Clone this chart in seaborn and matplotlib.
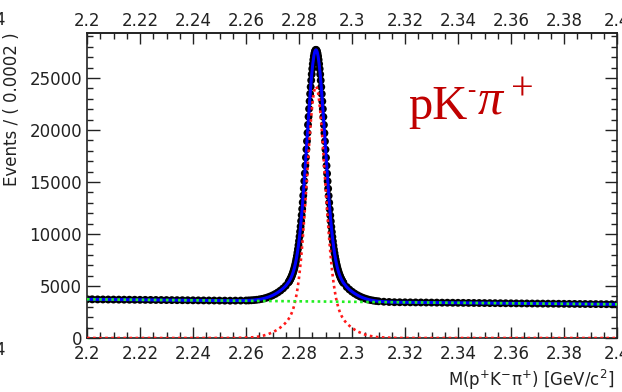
import numpy as np
import pandas as pd
import matplotlib
matplotlib.use("Agg")
import matplotlib.pyplot as plt
import seaborn as sns
from matplotlib.ticker import MultipleLocator, FuncFormatter

# ---------------- data (events per 0.0002 GeV/c^2 bin) ----------------
# segments: (first bin centre, spacing between listed bins)
far_left_start, far_left_step = 2.200, 0.002
far_left_counts = [3720, 3715, 3710, 3706, 3701, 3696, 3691, 3686, 3682, 3677,
                   3672, 3667, 3662, 3658, 3653, 3648, 3643, 3638, 3634, 3629,
                   3624, 3619, 3614, 3610, 3605, 3600, 3595, 3590, 3596, 3601, 3604]

near_left_start, near_left_step = 2.261, 0.001
near_left_counts = [3614, 3628, 3648, 3675, 3711, 3758, 3818, 3893, 3985, 4096,
                    4228, 4382, 4560, 4768, 5017]

peak_start, peak_step = 2.2760, 0.0002
peak_counts = [5339, 5415, 5500, 5595, 5692, 5798, 5914, 6041, 6179, 6332,
               6497, 6681, 6882, 7101, 7343, 7607, 7895, 8210, 8551, 8922,
               9324, 9756, 10221, 10720, 11250, 11814, 12410, 13037, 13697, 14383,
               15096, 15830, 16587, 17357, 18140, 18928, 19718, 20503, 21278, 22036,
               22772, 23479, 24149, 24778, 25361, 25888, 26357, 26762, 27101, 27366,
               27558, 27674, 27713, 27674, 27556, 27364, 27097, 26758, 26351, 25882,
               25353, 24770, 24139, 23469, 22760, 22024, 21264, 20489, 19702, 18912,
               18122, 17339, 16567, 15810, 15074, 14361, 13673, 13013, 12385, 11788,
               11224, 10692, 10193, 9726, 9294, 8890, 8519, 8176, 7861, 7571,
               7307, 7063, 6844, 6641, 6457, 6290, 6137, 5997, 5870, 5752,
               5646, 5547, 5452, 5367, 5289]

near_right_start, near_right_step = 2.298, 0.001
near_right_counts = [4908, 4663, 4457, 4279, 4125, 3993, 3880, 3788, 3711, 3649,
                     3600, 3560, 3530]

far_right_start, far_right_step = 2.312, 0.002
far_right_counts = [3489, 3464, 3442, 3437, 3432, 3427, 3422, 3418, 3413, 3408,
                    3403, 3398, 3394, 3389, 3384, 3379, 3374, 3370, 3365, 3360,
                    3355, 3350, 3346, 3341, 3336, 3331, 3326, 3322, 3317, 3312,
                    3307, 3302, 3298, 3293, 3288, 3283, 3278, 3274, 3269, 3264,
                    3259, 3254, 3250, 3245, 3240]

# signal component (red dotted)
sig_tail_left_mass = [2.2000, 2.2400, 2.2560, 2.2624, 2.2644, 2.2664, 2.2684]
sig_tail_left_counts = [0, 0, 6, 65, 123, 220, 372]
sig_core_start, sig_core_step = 2.2704, 0.0004
sig_core_counts = [595, 650, 708, 769, 835, 903, 977, 1055, 1138, 1226,
                   1321, 1423, 1535, 1660, 1801, 1963, 2156, 2379, 2645, 2964,
                   3350, 3812, 4365, 5022, 5796, 6694, 7724, 8885, 10172, 11572,
                   13064, 14618, 16197, 17758, 19253, 20631, 21844, 22841, 23586, 24044,
                   24200,
                   24044, 23586, 22841, 21844, 20631, 19253, 17758, 16197, 14618, 13064,
                   11572, 10172, 8885, 7724, 6694, 5796, 5022, 4365, 3812, 3350,
                   2964, 2645, 2379, 2156, 1963, 1801, 1660, 1535, 1423, 1321,
                   1226, 1138, 1055, 977, 903, 835, 769, 708, 650, 595]
sig_tail_right_mass = [2.3044, 2.3064, 2.3084, 2.3104, 2.3168, 2.3300, 2.4000]
sig_tail_right_counts = [372, 220, 123, 65, 6, 0, 0]

# background component (green dotted)
bkg_mass = [2.200, 2.400]
bkg_counts = [3720, 3240]

x_ticks_labels_step = 0.02

# ---------------- assemble ----------------
def seg(start, step, vals):
    return start + step * np.arange(len(vals))

mass = np.concatenate([seg(far_left_start, far_left_step, far_left_counts),
                       seg(near_left_start, near_left_step, near_left_counts),
                       seg(peak_start, peak_step, peak_counts),
                       seg(near_right_start, near_right_step, near_right_counts),
                       seg(far_right_start, far_right_step, far_right_counts)])
counts = np.concatenate([far_left_counts, near_left_counts, peak_counts,
                         near_right_counts, far_right_counts]).astype(float)
data = pd.DataFrame({"mass": mass, "events": counts})

sig_mass = np.concatenate([sig_tail_left_mass,
                           seg(sig_core_start, sig_core_step, sig_core_counts),
                           sig_tail_right_mass])
sig_counts = np.concatenate([sig_tail_left_counts, sig_core_counts, sig_tail_right_counts])
sig = pd.DataFrame({"mass": sig_mass, "events": sig_counts})
bkg = pd.DataFrame({"mass": bkg_mass, "events": bkg_counts})

# ---------------- plot ----------------
sns.set_style("ticks")
plt.rcParams["font.family"] = ["DejaVu Sans"]
plt.rcParams["mathtext.fontset"] = "dejavusans"

W, H = 622, 392
fig = plt.figure(figsize=(W / 100, H / 100), dpi=100)
ax = fig.add_axes([87 / W, 1 - 338 / H, 530 / W, 305 / H])

ax.errorbar(data["mass"], data["events"], yerr=np.sqrt(data["events"]),
            fmt="none", ecolor="black", elinewidth=1.4, zorder=2)
sns.scatterplot(data=data, x="mass", y="events", ax=ax, color="black",
                s=32, edgecolor="none", linewidth=0, zorder=2, legend=False)
sns.lineplot(data=data, x="mass", y="events", ax=ax, color="#0000ff",
             linewidth=2.2, zorder=3, estimator=None)
sns.lineplot(data=sig, x="mass", y="events", ax=ax, color="#ff1a1a",
             linewidth=1.9, linestyle=(0, (1, 1.3)), zorder=4, estimator=None)
sns.lineplot(data=bkg, x="mass", y="events", ax=ax, color="#22ee22",
             linewidth=1.9, linestyle=(0, (1, 1.3)), zorder=5, estimator=None)

ax.set_xlim(2.2, 2.4)
ax.set_ylim(0, 29330)
ax.set_xlabel("")
ax.set_ylabel("")

fmt_x = FuncFormatter(lambda v, p: f"{v:g}")
ax.xaxis.set_major_locator(MultipleLocator(x_ticks_labels_step))
ax.xaxis.set_minor_locator(MultipleLocator(0.005))
ax.xaxis.set_major_formatter(fmt_x)
ax.yaxis.set_major_locator(MultipleLocator(5000))
ax.yaxis.set_minor_locator(MultipleLocator(1000))
ax.yaxis.set_major_formatter(FuncFormatter(lambda v, p: f"{v:.0f}"))

ax.tick_params(axis="both", which="both", direction="in", top=True, right=True,
               colors="#222222", labelcolor="#222222", width=1.0)
ax.tick_params(axis="x", which="major", length=8, pad=5, labelsize=12)
ax.tick_params(axis="x", which="minor", length=4)
ax.tick_params(axis="y", which="major", length=9, pad=3.6, labelsize=12)
ax.tick_params(axis="y", which="minor", length=4.5)
for s in ax.spines.values():
    s.set_linewidth(1.2)
    s.set_color("#222222")

secax = ax.secondary_xaxis("top")
secax.xaxis.set_major_locator(MultipleLocator(x_ticks_labels_step))
secax.xaxis.set_major_formatter(fmt_x)
secax.tick_params(axis="x", which="both", length=0, pad=2.2, labelsize=12,
                  labelcolor="#222222")
secax.xaxis.set_minor_locator(MultipleLocator(0.005))
secax.spines["top"].set_linewidth(1.2)
secax.spines["top"].set_color("#222222")

# axis titles
fig.text(12.5 / W, 1 - 32 / H, "Events / ( 0.0002 )", rotation=90,
         ha="center", va="top", fontsize=12, color="#222222")
fig.text(614 / W, 1 - 380 / H, "M(p$^{+}$K$^{-}$π$^{+}$) [GeV/c$^{2}$]",
         ha="right", va="center", fontsize=12, color="#222222")

# clipped labels of the neighbouring panel
fig.text(5 / W, 1 - 20 / H, "4", ha="right", va="center", fontsize=12, color="#222222")
fig.text(5 / W, 1 - 350 / H, "4", ha="right", va="center", fontsize=12, color="#222222")

# channel label
red = "#c00000"
fig.text(408 / W, 1 - 119 / H, "pK", fontfamily="Liberation Serif", fontsize=35,
         color=red, ha="left", va="baseline")
fig.text(471.5 / W, 1 - 97 / H, "-", fontfamily="Liberation Serif", fontsize=18,
         color=red, ha="center", va="baseline")
fig.text(478 / W, 1 - 114 / H, "π", fontfamily="Liberation Serif", style="italic",
         fontsize=36, color=red, ha="left", va="baseline")
fig.text(510.7 / W, 1 - 99.5 / H, "+", fontfamily="Liberation Serif", fontsize=29,
         color=red, ha="left", va="baseline")

fig.savefig("out.png", dpi=100, facecolor="white")
